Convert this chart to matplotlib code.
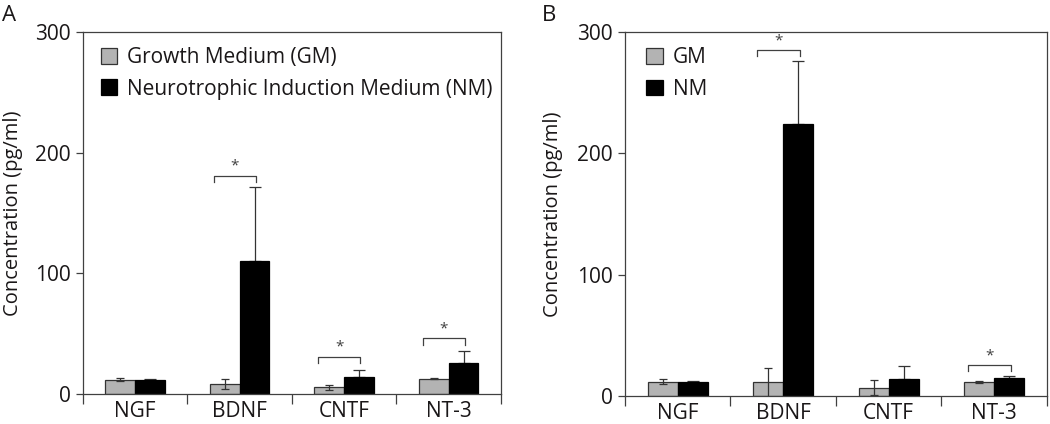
import matplotlib
matplotlib.use("Agg")
import matplotlib.pyplot as plt
from matplotlib.patches import Patch
import numpy as np

plt.rcParams["font.family"] = ["Open Sans", "DejaVu Sans"]

CATEGORIES = ["NGF", "BDNF", "CNTF", "NT-3"]

# panel A
A_GM = [12.0, 8.3, 5.5, 12.7]
A_GM_ERR = [1.5, 4.5, 2.2, 0.6]
A_NM = [11.3, 110.5, 14.4, 25.4]
A_NM_ERR = [1.0, 61.0, 5.2, 10.2]
A_SIG = [1, 2, 3]              # categories with a significance bracket
A_SIG_Y = [181, 31, 46]

# panel B
B_GM = [11.8, 11.3, 6.9, 11.5]
B_GM_ERR = [2.0, 12.0, 6.3, 0.7]
B_NM = [11.5, 223.9, 14.3, 14.8]
B_NM_ERR = [0.6, 52.0, 10.4, 2.0]
B_SIG = [1, 3]
B_SIG_Y = [285, 25.5]

TEXT = "#1a1718"
LINE = "#404040"
GRAY = "#b3b3b3"
BAR_W = 0.285


def draw_panel(ax, gm, gm_err, nm, nm_err, sig, sig_y, label_x):
    x = np.arange(len(CATEGORIES))
    ax.bar(x - BAR_W / 2, gm, BAR_W, color=GRAY, edgecolor="#333333", linewidth=0.9, zorder=2)
    ax.bar(x + BAR_W / 2, nm, BAR_W, color="black", edgecolor="black", linewidth=0.9, zorder=2)
    ax.errorbar(x - BAR_W / 2, gm, yerr=gm_err, fmt="none", ecolor="#333333",
                elinewidth=0.9, capsize=3, capthick=0.9, zorder=3)
    # only the upper half shows above the black bars
    ax.errorbar(x + BAR_W / 2, nm, yerr=[np.zeros(len(nm)), nm_err], fmt="none",
                ecolor="#333333", elinewidth=0.9, capsize=4, capthick=0.9, zorder=1)

    for i, y in zip(sig, sig_y):
        xl, xr = i - 0.25, i + 0.155
        ax.plot([xl, xl, xr, xr], [y - 5, y, y, y - 5], color=LINE, lw=0.9, zorder=3)
        ax.text((xl + xr) / 2, y + 1.5, "*", ha="center", va="bottom",
                fontsize=11, color=LINE)

    ax.set_xlim(-0.5, 3.5)
    ax.set_ylim(0, 300)
    ax.set_yticks([0, 100, 200, 300])
    ax.set_xticks(np.arange(-0.5, 4, 1))
    ax.set_xticklabels([])
    ax.set_xticks(x, minor=True)
    ax.set_xticklabels(CATEGORIES, minor=True)
    ax.tick_params(axis="x", which="major", direction="out", length=7, width=0.9, color=LINE)
    ax.tick_params(axis="x", which="minor", length=0, pad=5, labelsize=15, labelcolor=TEXT)
    ax.tick_params(axis="y", direction="out", length=5, width=0.9, color=LINE,
                   pad=4, labelsize=15, labelcolor=TEXT)
    for s in ax.spines.values():
        s.set_color(LINE)
        s.set_linewidth(0.9)

    ax.set_ylabel("Concentration (pg/ml)", fontsize=14.5, color=TEXT)
    ax.yaxis.set_label_coords(label_x, 0.5)

    handles = [Patch(facecolor=GRAY, edgecolor="#333333", linewidth=0.9),
               Patch(facecolor="black", edgecolor="black", linewidth=0.9)]
    return handles


fig = plt.figure(figsize=(10.5, 4.24), dpi=100)
ax_a = fig.add_axes([0.0790, 0.0708, 0.3981, 0.8537])
ax_b = fig.add_axes([0.5952, 0.0660, 0.4019, 0.8585])

h = draw_panel(ax_a, A_GM, A_GM_ERR, A_NM, A_NM_ERR, A_SIG, A_SIG_Y, -0.143)
ax_a.legend(h, ["Growth Medium (GM)", "Neurotrophic Induction Medium (NM)"],
            loc="upper left", bbox_to_anchor=(0.042, 0.958), frameon=False,
            borderpad=0, borderaxespad=0, handlelength=0.8, handleheight=0.8,
            handletextpad=0.45, labelspacing=0.5, fontsize=15, labelcolor=TEXT)

h = draw_panel(ax_b, B_GM, B_GM_ERR, B_NM, B_NM_ERR, B_SIG, B_SIG_Y, -0.147)
ax_b.legend(h, ["GM", "NM"],
            loc="upper left", bbox_to_anchor=(0.051, 0.958), frameon=False,
            borderpad=0, borderaxespad=0, handlelength=0.8, handleheight=0.8,
            handletextpad=0.45, labelspacing=0.5, fontsize=15, labelcolor=TEXT)

fig.text(2 / 1050, 1 - 21 / 424, "A", fontsize=16, color=TEXT, ha="left", va="baseline")
fig.text(542 / 1050, 1 - 21 / 424, "B", fontsize=16, color=TEXT, ha="left", va="baseline")

fig.savefig("out.png", dpi=100)
